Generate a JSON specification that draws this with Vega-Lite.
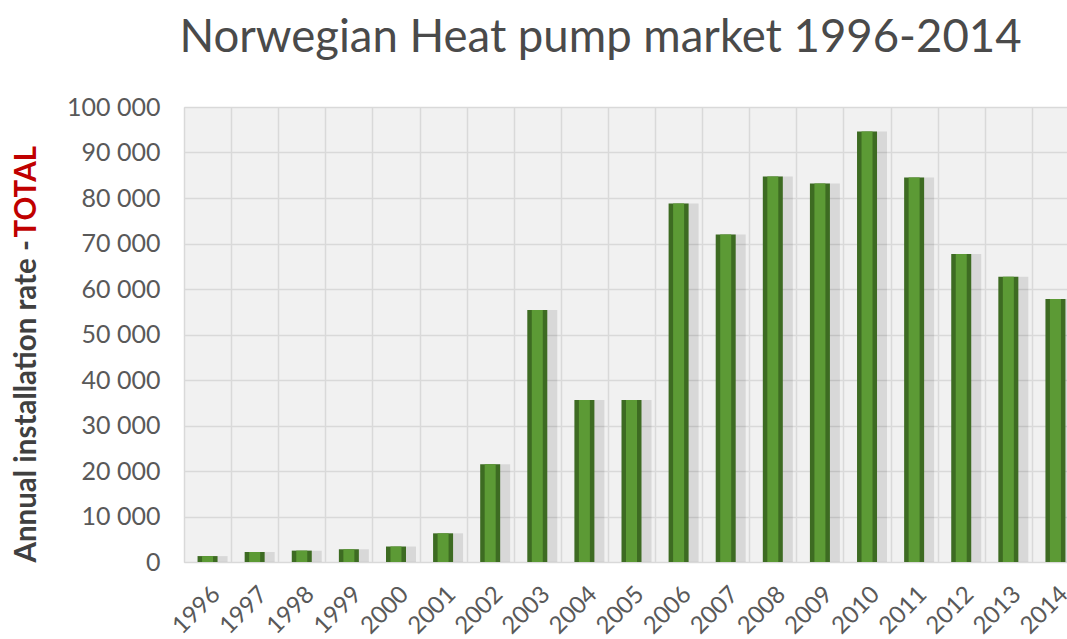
{
  "$schema": "https://vega.github.io/schema/vega-lite/v6.json",
  "width": 883,
  "height": 455,
  "autosize": {"type": "none"},
  "padding": {"left": 184, "top": 107, "right": 0, "bottom": 77},
  "background": "white",
  "title": {
    "text": "Norwegian Heat pump market 1996-2014",
    "font": "Lato",
    "fontSize": 45.5,
    "fontWeight": "normal",
    "color": "#4a4a4a",
    "anchor": "middle",
    "frame": "group",
    "dx": -25,
    "dy": 52,
    "offset": 40,
    "baseline": "bottom"
  },
  "config": {
    "view": {"fill": "#f1f1f1", "stroke": "#d9d9d9"},
    "axis": {"labelFont": "Lato", "titleFont": "Lato"}
  },
  "data": {
    "values": [
      {"year": "1996", "value": 1300},
      {"year": "1997", "value": 2200},
      {"year": "1998", "value": 2500},
      {"year": "1999", "value": 2800},
      {"year": "2000", "value": 3400},
      {"year": "2001", "value": 6300},
      {"year": "2002", "value": 21500},
      {"year": "2003", "value": 55400},
      {"year": "2004", "value": 35600},
      {"year": "2005", "value": 35600},
      {"year": "2006", "value": 78800},
      {"year": "2007", "value": 72000},
      {"year": "2008", "value": 84700},
      {"year": "2009", "value": 83200},
      {"year": "2010", "value": 94600},
      {"year": "2011", "value": 84500},
      {"year": "2012", "value": 67700},
      {"year": "2013", "value": 62700},
      {"year": "2014", "value": 57800}
    ]
  },
  "encoding": {
    "x": {
      "field": "year",
      "type": "ordinal",
      "scale": {"range": [0, 895], "paddingInner": 0, "paddingOuter": 0},
      "axis": {
        "title": null,
        "labelAngle": -45,
        "labelFontSize": 24,
        "labelColor": "#595959",
        "labelPadding": 20,
        "ticks": false,
        "domain": false,
        "grid": true,
        "tickBand": "extent",
        "gridColor": "#d9d9d9",
        "gridWidth": 1.5
      }
    }
  },
  "layer": [
    {
      "mark": {"type": "bar", "width": 22, "xOffset": 9, "color": "#000000", "opacity": 0.1},
      "encoding": {
        "y": {
          "field": "value",
          "type": "quantitative",
          "scale": {"domain": [0, 100000]},
          "axis": {
            "title": "Annual installation rate - ",
            "titleColor": "#404040",
            "titleFontWeight": "bold",
            "titleFontSize": 29.5,
            "titleAngle": -90,
            "titleAlign": "left",
            "titleBaseline": "middle",
            "titleX": -158,
            "titleY": 455,
            "values": [0, 10000, 20000, 30000, 40000, 50000, 60000, 70000, 80000, 90000, 100000],
            "labelExpr": "replace(format(datum.value, ','), ',', ' ')",
            "labelFontSize": 25,
            "labelColor": "#595959",
            "labelPadding": 24,
            "ticks": false,
            "domain": false,
            "grid": true,
            "gridColor": "#d9d9d9",
            "gridWidth": 1.5
          }
        }
      }
    },
    {
      "mark": {"type": "bar", "width": 20, "color": "#3d6b22"},
      "encoding": {
        "y": {"field": "value", "type": "quantitative", "axis": null}
      }
    },
    {
      "mark": {"type": "bar", "width": 11, "color": "#5c9a35"},
      "encoding": {
        "y": {
          "field": "value",
          "type": "quantitative",
          "axis": {
            "orient": "left",
            "title": "TOTAL",
            "titleColor": "#c00000",
            "titleFontWeight": "bold",
            "titleFontSize": 29.5,
            "titleAngle": -90,
            "titleAlign": "left",
            "titleBaseline": "middle",
            "titleX": -158,
            "titleY": 130,
            "labels": false,
            "ticks": false,
            "domain": false,
            "grid": false
          }
        }
      }
    }
  ],
  "resolve": {"axis": {"y": "independent"}}
}
